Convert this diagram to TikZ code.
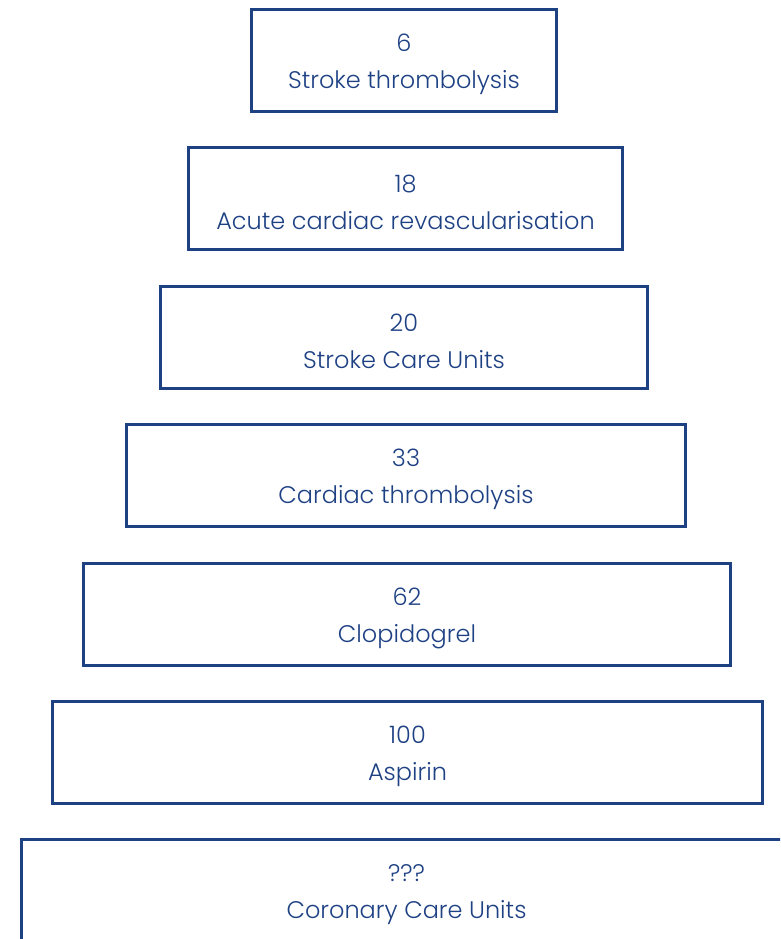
\documentclass[tikz,border=0pt]{standalone}
\usepackage{fontspec}
\setmainfont{Poppins}[UprightFont={* Light}]
\definecolor{navy}{HTML}{1E4184}
\begin{document}
\begin{tikzpicture}[x=1pt,y=-1pt,
  tier/.style={draw=navy, line width=3pt, minimum height=102pt, inner sep=0pt},
  tiertext/.style={text=navy, align=center, font=\fontsize{24}{37}\selectfont,
    inner sep=0pt, yshift=-4pt}]
\useasboundingbox (0,0) rectangle (780,939);
\clip (0,0) rectangle (780,939);
\node[tier, minimum width=305pt, label={[tiertext]center:6\\Stroke thrombolysis}] (t1) at (404,60.5) {};
\node[tier, minimum width=434pt, label={[tiertext]center:18\\Acute cardiac revascularisation}] (t2) at (405.5,198.5) {};
\node[tier, minimum width=487pt, label={[tiertext]center:20\\Stroke Care Units}] (t3) at (404,337.5) {};
\node[tier, minimum width=559pt, label={[tiertext]center:33\\Cardiac thrombolysis}] (t4) at (406,475.5) {};
\node[tier, minimum width=647pt, label={[tiertext]center:62\\Clopidogrel}] (t5) at (407,614) {};
\node[tier, minimum width=710pt, label={[tiertext]center:100\\Aspirin}] (t6) at (407.5,752.5) {};
\node[tier, minimum width=770pt, label={[tiertext]center:???\\Coronary Care Units}] (t7) at (406.5,890.5) {};
\end{tikzpicture}
\end{document}
